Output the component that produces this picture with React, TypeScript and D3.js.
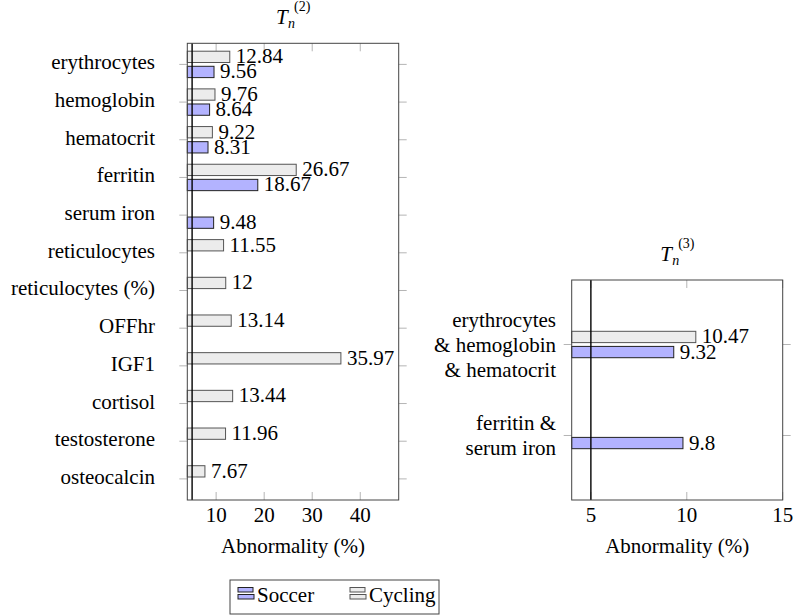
import React from 'react';
import * as d3 from 'd3';

// left panel: T_n^(2)
const categories2 = [
  'erythrocytes', 'hemoglobin', 'hematocrit', 'ferritin', 'serum iron',
  'reticulocytes', 'reticulocytes (%)', 'OFFhr', 'IGF1', 'cortisol',
  'testosterone', 'osteocalcin',
];
const soccer2: (number | null)[] = [9.56, 8.64, 8.31, 18.67, 9.48, null, null, null, null, null, null, null];
const cycling2: (number | null)[] = [12.84, 9.76, 9.22, 26.67, null, 11.55, 12, 13.14, 35.97, 13.44, 11.96, 7.67];
const ticks2 = [10, 20, 30, 40];

// right panel: T_n^(3)
const categories3 = [
  ['erythrocytes', '& hemoglobin', '& hematocrit'],
  ['ferritin &', 'serum iron'],
];
const soccer3: (number | null)[] = [9.32, 9.8];
const cycling3: (number | null)[] = [10.47, null];
const ticks3 = [5, 10, 15];

const threshold = 5;

const FONT = 'Liberation Serif';
const FS = 21;
const SOCCER_FILL = '#b3b3ff';
const CYCLING_FILL = '#ececec';
const FRAME = '#444';
const TICK = '#b5b5b5';

type PanelProps = {
  left: number; right: number; top: number; bottom: number;
  xDomain: [number, number];
  labels: string[][];
  soccer: (number | null)[];
  cycling: (number | null)[];
  ticks: number[];
  padding: number;
  labelX: number;
  sup: string;
};

const Panel = ({ left, right, top, bottom, xDomain, labels, soccer, cycling, ticks, padding, labelX, sup }: PanelProps) => {
  const x = d3.scaleLinear().domain(xDomain).range([left, right]);
  const y = d3.scalePoint<number>().domain(labels.map((_, i) => i)).range([top, bottom]).padding(padding);
  const barH = 11.3;
  const gap = 1.9;
  const cx = (left + right) / 2;

  const bar = (v: number | null, i: number, kind: 'soccer' | 'cycling') => {
    if (v == null) return null;
    const yc = y(i)!;
    const y0 = kind === 'cycling' ? yc - gap - barH : yc + gap;
    return (
      <g key={kind + i}>
        <rect x={left} y={y0} width={x(v) - left} height={barH}
          fill={kind === 'soccer' ? SOCCER_FILL : CYCLING_FILL}
          stroke={kind === 'soccer' ? '#222' : '#555'} strokeWidth={1} />
        <text fontFamily={FONT} fontSize={FS} x={x(v) + 6} y={y0 + barH / 2 + 6.5}>{v}</text>
      </g>
    );
  };

  return (
    <g>
      {/* title */}
      <text fontFamily={FONT} fontSize={FS} x={cx - 17} y={top - 19} fontStyle="italic">T</text>
      <text fontFamily={FONT} x={cx - 5} y={top - 15} fontSize={14} fontStyle="italic">n</text>
      <text fontFamily={FONT} x={cx + 1} y={top - 32} fontSize={14}>{sup}</text>

      {/* y ticks (outside, both sides) */}
      {labels.map((_, i) => (
        <g key={'yt' + i} stroke={TICK}>
          <line x1={left - 8} x2={left} y1={y(i)} y2={y(i)} />
          <line x1={right} x2={right + 8} y1={y(i)} y2={y(i)} />
        </g>
      ))}
      {/* x ticks (inside, top and bottom) */}
      {ticks.map(t => (
        <g key={'xt' + t} stroke={TICK}>
          <line x1={x(t)} x2={x(t)} y1={bottom} y2={bottom - 8} />
          <line x1={x(t)} x2={x(t)} y1={top} y2={top + 8} />
        </g>
      ))}

      {labels.map((_, i) => bar(cycling[i], i, 'cycling'))}
      {labels.map((_, i) => bar(soccer[i], i, 'soccer'))}

      <line x1={x(threshold)} x2={x(threshold)} y1={top} y2={bottom} stroke="#000" strokeWidth={1.4} />
      <rect x={left} y={top} width={right - left} height={bottom - top} fill="none" stroke={FRAME} strokeWidth={1} />

      {/* category labels */}
      {labels.map((lines, i) => lines.map((ln, j) => (
        <text fontFamily={FONT} fontSize={FS} key={'yl' + i + '-' + j} x={labelX} textAnchor="end"
          y={y(i)! + (lines.length > 1 ? 7 : 5) + (j - (lines.length - 1) / 2) * 25}>{ln}</text>
      )))}

      {/* x tick labels */}
      {ticks.map(t => (
        <text fontFamily={FONT} fontSize={FS} key={'xl' + t} x={x(t)} y={bottom + 22} textAnchor="middle">{t}</text>
      ))}
      <text fontFamily={FONT} fontSize={FS} x={cx} y={bottom + 53} textAnchor="middle">Abnormality (%)</text>
    </g>
  );
};

const LegendIcon = ({ x, y, fill, stroke }: { x: number; y: number; fill: string; stroke: string }) => (
  <g fill={fill} stroke={stroke} strokeWidth={1}>
    <rect x={x} y={y} width={15} height={4.5} />
    <rect x={x} y={y + 7} width={16} height={4.5} />
  </g>
);

export default function App() {
  return (
    <svg width={793} height={616} style={{ position: 'absolute', left: 0, top: 0 }}>
      <rect width={793} height={616} fill="#fff" />
      <Panel left={187.3} right={398.7} top={43.3} bottom={500} xDomain={[4, 48]}
        labels={categories2.map(c => [c])} soccer={soccer2} cycling={cycling2}
        ticks={ticks2} padding={0.56} labelX={155} sup="(2)" />
      <Panel left={571.7} right={782.7} top={280} bottom={500} xDomain={[4, 15]}
        labels={categories3} soccer={soccer3} cycling={cycling3}
        ticks={ticks3} padding={0.709} labelX={556} sup="(3)" />

      <rect x={230} y={580} width={209} height={34} fill="#fff" stroke={FRAME} />
      <LegendIcon x={238} y={587.5} fill={SOCCER_FILL} stroke="#222" />
      <text fontFamily={FONT} fontSize={FS} x={257} y={602}>Soccer</text>
      <LegendIcon x={350} y={587.5} fill={CYCLING_FILL} stroke="#555" />
      <text fontFamily={FONT} fontSize={FS} x={369} y={602}>Cycling</text>
    </svg>
  );
}
